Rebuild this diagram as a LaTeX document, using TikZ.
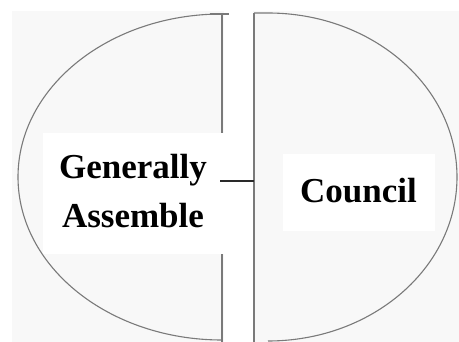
\documentclass[tikz,border=0pt]{standalone}
\usepackage{fontspec}
\setmainfont{Liberation Serif}
\definecolor{bggray}{HTML}{F8F8F8}
\definecolor{linegray}{HTML}{7A7A7A}
\definecolor{darkline}{HTML}{2A2A2A}
\tikzset{
  outline/.style={draw=linegray, line width=1.1pt},
  whitebox/.style={fill=white, draw=none, inner sep=0pt, anchor=north west},
  label/.style={font=\bfseries\fontsize{35}{42}\selectfont, anchor=base, inner sep=0pt, text=black},
  link/.style={draw=darkline, line width=1.5pt}
}
\begin{document}
\begin{tikzpicture}[x=1pt,y=-1pt]
\useasboundingbox (0,0) rectangle (459,342);
\fill[bggray] (12,11) rectangle (459,342);
\fill[white] (224,0) rectangle (253,342);
% left half ellipse
\draw[outline] (222,14) arc[start angle=-90, end angle=-270, x radius=204, y radius=163];
\draw[outline] (210,14) -- (229,14);
\draw[outline] (222,14) -- (222,342);
% right half ellipse
\draw[outline] (254,13) -- (268,13) arc[start angle=-90, end angle=90, x radius=189, y radius=164];
\draw[outline] (254,13) -- (254,342);
% white boxes
\node[whitebox, minimum width=186pt, minimum height=121pt] (lbox) at (43,133) {};
\node[whitebox, minimum width=152pt, minimum height=77pt] (rbox) at (283,154) {};
% texts
\node[label] (t1) at (133,179) {Generally};
\node[label] (t2) at (133,228) {Assemble};
\node[label] (t3) at (358.5,203) {Council};
% connector
\coordinate (lj) at (220,181);
\coordinate (rj) at (254,181);
\draw[link] (lj) -- (rj);
\end{tikzpicture}
\end{document}
